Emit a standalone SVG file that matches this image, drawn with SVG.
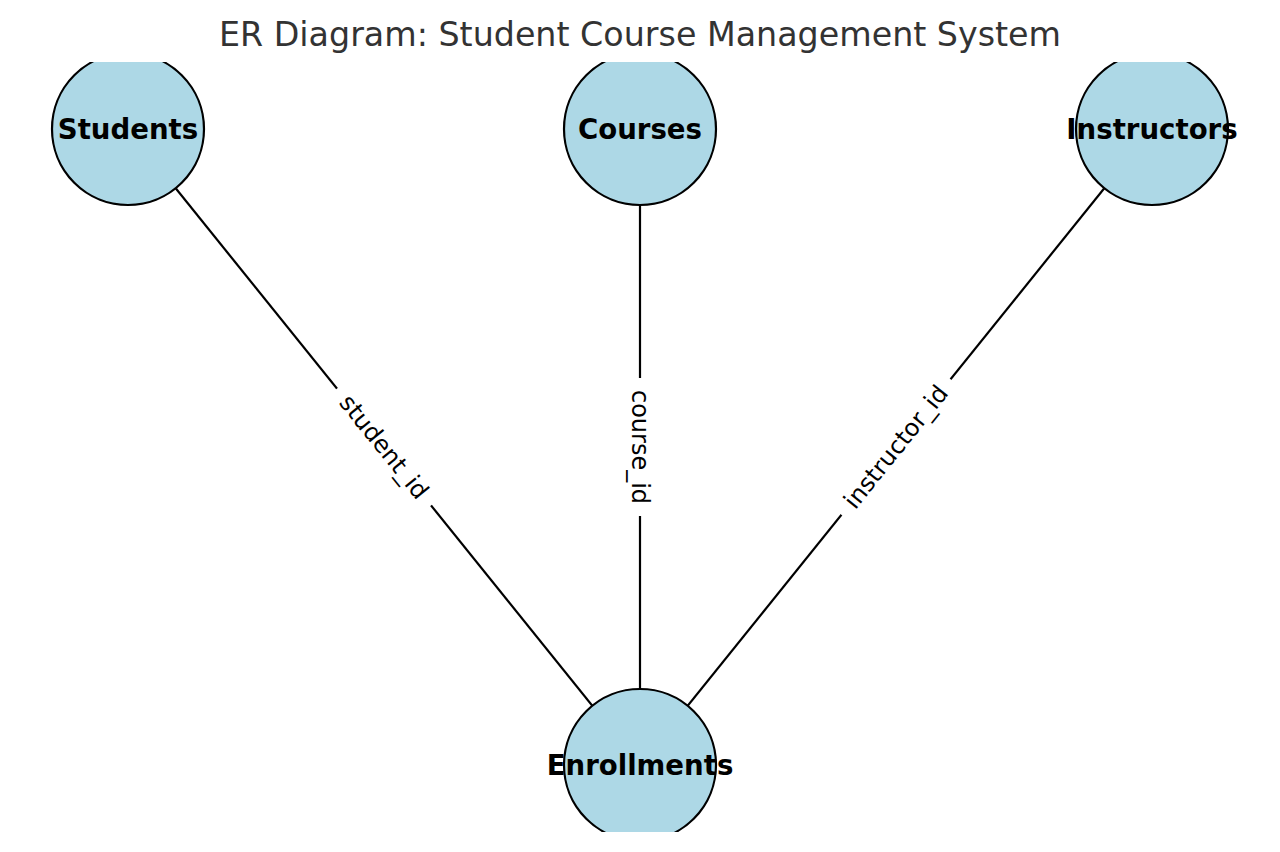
<svg xmlns="http://www.w3.org/2000/svg" width="1280" height="852" viewBox="0 0 1280 852">
<style>
.node{fill:#ADD8E6;stroke:#000;stroke-width:2.2}
.nlabel{font-family:"DejaVu Sans",sans-serif;font-weight:bold;font-size:27.6px;fill:#000;text-anchor:middle}
.edge{stroke:#000;stroke-width:2.2;fill:none}
.elabel{font-family:"DejaVu Sans",sans-serif;font-size:24px;fill:#000;text-anchor:middle;dominant-baseline:central}
.ebox{fill:#fff}
.title{font-family:"DejaVu Sans",sans-serif;font-size:33.3px;fill:#333;text-anchor:middle}
</style>
<defs>
<clipPath id="ax"><rect x="0" y="62" width="1280" height="770"/></clipPath>
</defs>
<rect width="1280" height="852" fill="#fff"/>
<text class="title" x="640" y="46">ER Diagram: Student Course Management System</text>
<g id="connectors" clip-path="url(#ax)">
<line class="edge" x1="128" y1="129" x2="640" y2="765"/>
<line class="edge" x1="640" y1="129" x2="640" y2="765"/>
<line class="edge" x1="1152" y1="129" x2="640" y2="765"/>
<g transform="translate(384,447) rotate(51.16)">
<rect class="ebox" x="-75" y="-15" width="150" height="30"/>
<text class="elabel" x="0" y="0">student_id</text>
</g>
<g transform="translate(640,447) rotate(90)">
<rect class="ebox" x="-69" y="-15" width="138" height="30"/>
<text class="elabel" x="0" y="0">course_id</text>
</g>
<g transform="translate(896,447) rotate(-51.16)">
<rect class="ebox" x="-87" y="-15" width="174" height="30"/>
<text class="elabel" x="0" y="0">instructor_id</text>
</g>
</g>
<g id="students">
<circle class="node" cx="128" cy="129" r="76" clip-path="url(#ax)"/>
<text class="nlabel" x="128" y="138.5">Students</text>
</g>
<g id="courses">
<circle class="node" cx="640" cy="129" r="76" clip-path="url(#ax)"/>
<text class="nlabel" x="640" y="138.5">Courses</text>
</g>
<g id="instructors">
<circle class="node" cx="1152" cy="129" r="76" clip-path="url(#ax)"/>
<text class="nlabel" x="1152" y="138.5">Instructors</text>
</g>
<g id="enrollments">
<circle class="node" cx="640" cy="765" r="76" clip-path="url(#ax)"/>
<text class="nlabel" x="640" y="774.5">Enrollments</text>
</g>
</svg>
